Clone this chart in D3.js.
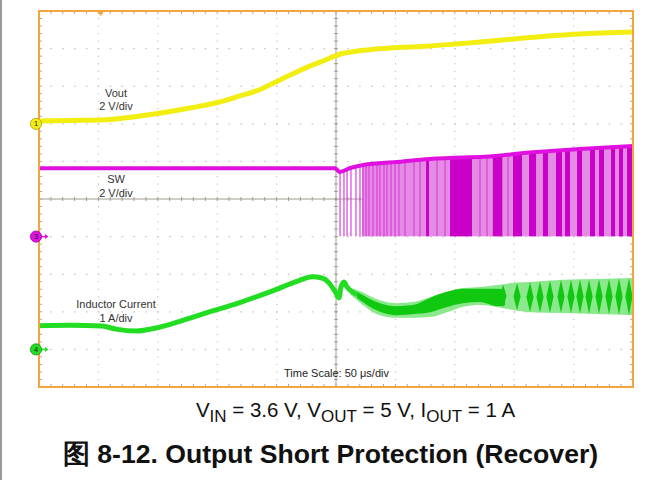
<!DOCTYPE html>
<html>
<head>
<meta charset="utf-8">
<script src="https://cdn.jsdelivr.net/npm/d3@7"></script>
<style>
  body { margin: 0; background: #fff; }
  svg { display: block; font-family: "Liberation Sans", Arial, sans-serif; }
</style>
</head>
<body>
<div id="app"></div>
<script>
// values: time in µs, Vout / SW in V, inductor current in A
const vout = [[0,0.15],[26,0.18],[51,0.20],[85,0.41],[127,0.84],[152,1.16],[169,1.48],[183,1.75],[194,2.06],[211,2.58],[228,3.07],[239,3.34],[253,3.70],[268,3.87],[281,3.96],[295,4.03],[329,4.14],[371,4.35],[413,4.59],[455,4.78],[500,4.88]];

// SW: high level of the node, then the switching pulses that drop to 0 V
const swHigh = [[0,3.63],[60,3.64],[120,3.63],[180,3.64],[249,3.63],[251,3.55],[253,3.44],[262,3.65],[273,3.81],[301,3.97],[329,4.13],[357,4.21],[371,4.23],[413,4.47],[455,4.66],[500,4.82]];
const swThin = [253.4,256.7,259.3,262.6,266.8,270.2,272.7,275.3,277.8,281.1,284.5,287,290.4,292.9,296.3,299.7,303,308.1,315.7,320.7,335,341.8,371.2,377.1,394.8];
const swBars = [[325.8,328.3],[346,364.5],[382,390],[399,406.6],[412.5,418.4],[424.2,428.5],[435.2,440.2],[442.8,447],[452.9,457.1],[463.8,468],[471.4,475.6],[481.5,484.9],[488.2,491.6],[495,499.2]];
const swFillFrom = 272;

// inductor current
const ilTrace = [[0,0.63],[26,0.64],[53,0.62],[64.8,0.54],[81.7,0.49],[98.5,0.57],[117.8,0.74],[140.6,0.97],[168.4,1.24],[196.1,1.55],[218.9,1.83],[229.8,1.93],[238.2,1.90],[244.1,1.77],[250,1.50],[252.5,1.37],[254.2,1.66],[256.7,1.79],[259.3,1.66],[261.8,1.58],[267.7,1.45]];
const ilBand = [[261.8,1.63,1.47],[267.7,1.58,1.31],[287,1.31,0.91],[301.4,1.23,0.84],[314.8,1.26,0.84],[329.1,1.39,0.86],[343.4,1.53,0.99],[356.9,1.63,1.13],[371.2,1.66,1.18],[385.5,1.71,1.13],[399,1.77,1.05],[413.3,1.79,0.99],[441.1,1.85,0.97],[469.7,1.87,0.94],[500,1.90,0.91]];
const ilCore = [[267.7,1.53,1.37],[287,1.23,1.0],[301.4,1.15,0.91],[314.8,1.18,0.94],[329.1,1.37,0.99],[343.4,1.53,1.13],[356.9,1.61,1.23],[371.2,1.61,1.26],[385.5,1.61,1.15],[392.3,1.58,1.17]];
const ilTeeth = [[390.6,1.72,1.12],[402.4,1.77,1.04],[413.3,1.79,0.99],[421.7,1.81,0.98],[430.1,1.83,0.97],[439.4,1.85,0.97],[447.8,1.85,0.96],[455.4,1.86,0.95],[463,1.86,0.95],[471.4,1.87,0.94],[479.8,1.88,0.93],[488.2,1.89,0.92],[496.6,1.90,0.91]];

const timeDomain = [0, 500];      // 10 div x 50 µs
const divDomain = [-5, 5];
const triggerTime = 52;

const ch1 = {pos: 2, perDiv: 2, name: "1", color: "#F2EE12", dark: "#B89A00", labels: ["Vout", "2 V/div"]};
const ch3 = {pos: -1, perDiv: 2, name: "3", color: "#E010E0", dark: "#A000A0", labels: ["SW", "2 V/div"]};
const ch4 = {pos: -4, perDiv: 1, name: "4", color: "#22DD22", dark: "#109010", labels: ["Inductor Current", "1 A/div"]};

const W = 663, H = 480;
const frame = {left: 39, top: 11, right: 633, bottom: 387};

const x = d3.scaleLinear().domain(timeDomain).range([frame.left, frame.right]);
const yDiv = d3.scaleLinear().domain(divDomain).range([frame.bottom, frame.top]);
const yOf = ch => v => yDiv(ch.pos + v / ch.perDiv);
const y1 = yOf(ch1), y3 = yOf(ch3), y4 = yOf(ch4);

const svg = d3.select("#app").append("svg")
    .attr("width", W)
    .attr("height", H);

// page border on the left
svg.append("rect").attr("x", 0).attr("y", 0).attr("width", 2).attr("height", H).attr("fill", "#9a9a9a");

// ---- graticule
const grid = svg.append("g");
const xMinor = d3.range(0, 500.01, 10);
const yMinor = d3.range(-5, 5.01, 0.2);
const xMajor = d3.range(50, 500, 50).filter(d => d !== 250);
const yMajor = d3.range(-4, 5, 1).filter(d => d !== 0);

xMajor.forEach(t => {
  grid.selectAll(null).data(yMinor.slice(1, -1)).enter().append("rect")
      .attr("x", x(t) - 0.5).attr("y", d => yDiv(d) - 0.5)
      .attr("width", 1.2).attr("height", 1.2)
      .attr("fill", "#c4c4c4");
});
yMajor.forEach(v => {
  grid.selectAll(null).data(xMinor.slice(1, -1)).enter().append("rect")
      .attr("x", d => x(d) - 0.6).attr("y", yDiv(v) - 0.5)
      .attr("width", 1.6).attr("height", 1.2)
      .attr("fill", "#c4c4c4");
});

// center cross with ticks
grid.append("line")
    .attr("x1", frame.left).attr("x2", frame.right)
    .attr("y1", yDiv(0)).attr("y2", yDiv(0))
    .attr("stroke", "#a09c90").attr("stroke-width", 1);
grid.append("line")
    .attr("x1", x(250)).attr("x2", x(250))
    .attr("y1", frame.top).attr("y2", frame.bottom)
    .attr("stroke", "#a09c90").attr("stroke-width", 1);
grid.selectAll(".hc").data(xMinor).enter().append("line")
    .attr("x1", d => x(d)).attr("x2", d => x(d))
    .attr("y1", yDiv(0) - 2).attr("y2", yDiv(0) + 2)
    .attr("stroke", "#a09c90");
grid.selectAll(".vc").data(yMinor).enter().append("line")
    .attr("x1", x(250) - 2).attr("x2", x(250) + 2)
    .attr("y1", d => yDiv(d)).attr("y2", d => yDiv(d))
    .attr("stroke", "#a09c90");

// edge ticks
const tickCol = "#a8a8a8";
grid.selectAll(".tt").data(xMinor).enter().append("line")
    .attr("x1", d => x(d)).attr("x2", d => x(d))
    .attr("y1", frame.top).attr("y2", frame.top + 3)
    .attr("stroke", tickCol);
grid.selectAll(".bt").data(xMinor).enter().append("line")
    .attr("x1", d => x(d)).attr("x2", d => x(d))
    .attr("y1", frame.bottom - 3).attr("y2", frame.bottom)
    .attr("stroke", tickCol);
grid.selectAll(".lt").data(yMinor).enter().append("line")
    .attr("x1", frame.left).attr("x2", frame.left + 3)
    .attr("y1", d => yDiv(d)).attr("y2", d => yDiv(d))
    .attr("stroke", tickCol);
grid.selectAll(".rt").data(yMinor).enter().append("line")
    .attr("x1", frame.right - 3).attr("x2", frame.right)
    .attr("y1", d => yDiv(d)).attr("y2", d => yDiv(d))
    .attr("stroke", tickCol);

// ---- traces
const line = yf => d3.line().x(d => x(d[0])).y(d => yf(d[1])).curve(d3.curveMonotoneX);
const band = (yf) => d3.area().x(d => x(d[0])).y0(d => yf(d[2])).y1(d => yf(d[1])).curve(d3.curveMonotoneX);

// SW: clip pulses to the area under the high level
svg.append("clipPath").attr("id", "swclip")
  .append("path")
    .attr("d", d3.area().x(d => x(d[0])).y0(y3(0)).y1(d => y3(d[1])).curve(d3.curveMonotoneX)(swHigh));

const sw = svg.append("g").attr("clip-path", "url(#swclip)");
sw.append("rect")
    .attr("x", x(swFillFrom)).attr("y", y3(6))
    .attr("width", x(timeDomain[1]) - x(swFillFrom))
    .attr("height", y3(0) - y3(6))
    .attr("fill", "#E48CE4");
sw.selectAll(".thin").data(swThin).enter().append("rect")
    .attr("x", d => x(d) - 0.6).attr("y", y3(6))
    .attr("width", 1.2).attr("height", y3(0) - y3(6))
    .attr("fill", "#DA40DA");
sw.selectAll(".bar").data(swBars).enter().append("rect")
    .attr("x", d => x(d[0])).attr("y", y3(6))
    .attr("width", d => x(d[1]) - x(d[0]))
    .attr("height", y3(0) - y3(6))
    .attr("fill", "#C800C8");
svg.append("path")
    .attr("d", line(y3)(swHigh))
    .attr("fill", "none").attr("stroke", ch3.color).attr("stroke-width", 4);

// inductor current
svg.append("path")
    .attr("d", band(y4)(ilBand))
    .attr("fill", "#8CE88C");
svg.append("path")
    .attr("d", band(y4)(ilCore))
    .attr("fill", "#10C810");
svg.selectAll(".tooth").data(ilTeeth).enter().append("path")
    .attr("d", d => {
      const mid = (d[1] + d[2]) / 2;
      return `M${x(d[0] - 3)},${y4(mid)}L${x(d[0])},${y4(d[1])}L${x(d[0] + 3)},${y4(mid)}L${x(d[0])},${y4(d[2])}Z`;
    })
    .attr("fill", "#10C810");
svg.append("path")
    .attr("d", line(y4)(ilTrace))
    .attr("fill", "none").attr("stroke", ch4.color).attr("stroke-width", 5);

// Vout
svg.append("path")
    .attr("d", line(y1)(vout))
    .attr("fill", "none").attr("stroke", ch1.color).attr("stroke-width", 5);

// frame on top
svg.append("rect")
    .attr("x", frame.left).attr("y", frame.top)
    .attr("width", frame.right - frame.left).attr("height", frame.bottom - frame.top)
    .attr("fill", "none").attr("stroke", "#F3A43C").attr("stroke-width", 2);

// trigger marker
svg.append("path")
    .attr("d", `M${x(triggerTime) - 3.5},${frame.top}L${x(triggerTime) + 3.5},${frame.top}L${x(triggerTime)},${frame.top + 5}Z`)
    .attr("fill", "#F3A43C");

// channel ground markers
[ch1, ch3, ch4].forEach(ch => {
  const cy = yDiv(ch.pos);
  const m = svg.append("g");
  if (ch !== ch1) {
    m.append("line").attr("x1", 40).attr("x2", 45).attr("y1", cy).attr("y2", cy)
        .attr("stroke", ch.color).attr("stroke-width", 1.5);
    m.append("path").attr("d", `M45,${cy - 2.5}L48.5,${cy}L45,${cy + 2.5}Z`).attr("fill", ch.color);
  }
  m.append("circle").attr("cx", 36).attr("cy", cy).attr("r", 5.6)
      .attr("fill", ch.color).attr("stroke", ch.dark).attr("stroke-width", 0.8);
  m.append("text").attr("x", 36).attr("y", cy + 2.6)
      .attr("text-anchor", "middle").attr("font-size", 7.5).attr("fill", "#222")
      .text(ch.name);
});

// channel labels
const labelY = [[ch1, 97, 110], [ch3, 183, 196.5], [ch4, 308, 321.5]];
labelY.forEach(([ch, a, b]) => {
  svg.append("text").attr("x", 116).attr("y", a).attr("text-anchor", "middle")
      .attr("font-size", 11).attr("fill", "#333").text(ch.labels[0]);
  svg.append("text").attr("x", 116).attr("y", b).attr("text-anchor", "middle")
      .attr("font-size", 11).attr("fill", "#333").text(ch.labels[1]);
});

svg.append("text").attr("x", 284).attr("y", 377)
    .attr("font-size", 11).attr("fill", "#222")
    .text("Time Scale: 50 \u03bcs/div");

// caption
const cap = svg.append("text").attr("x", 355.5).attr("y", 417)
    .attr("text-anchor", "middle").attr("font-size", 20.5).attr("fill", "#111");
const parts = [["V"], ["IN", 1], [" = 3.6 V, V"], ["OUT", 1], [" = 5 V, I"], ["OUT", 1], [" = 1 A"]];
parts.forEach(([s, sub], i) => {
  const prevSub = i > 0 && parts[i - 1][1];
  const ts = cap.append("tspan").text(s);
  if (sub) ts.attr("font-size", 17).attr("dy", 4.5);
  else if (prevSub) ts.attr("dy", -4.5);
});

svg.append("text").attr("x", 330.5).attr("y", 463)
    .attr("text-anchor", "middle").attr("font-size", 26.6).attr("font-weight", "bold").attr("fill", "#111")
    .text("\u56fe 8-12. Output Short Protection (Recover)");
</script>
</body>
</html>
